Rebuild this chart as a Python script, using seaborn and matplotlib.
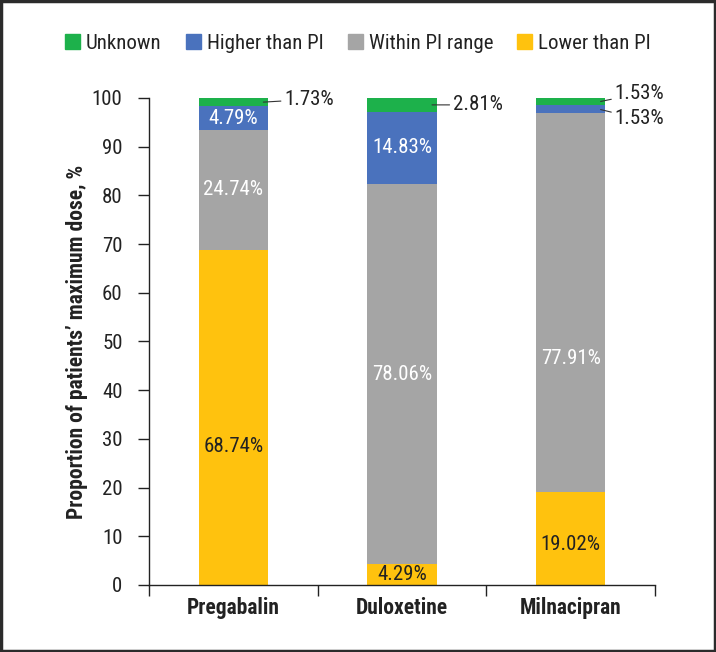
import matplotlib
matplotlib.use("Agg")
import matplotlib.pyplot as plt
from matplotlib.patches import Rectangle
import seaborn as sns
import numpy as np
import pandas as pd

# Data
drugs = ["Pregabalin", "Duloxetine", "Milnacipran"]
lower = [68.74, 4.29, 19.02]
within = [24.74, 78.06, 77.91]
higher = [4.79, 14.83, 1.53]
unknown = [1.73, 2.81, 1.53]

series_names = ["Lower than PI", "Within PI range", "Higher than PI", "Unknown"]
colors = {"Lower than PI": "#FFC20E", "Within PI range": "#A5A5A5",
          "Higher than PI": "#4A72BD", "Unknown": "#1DB14B"}

sns.set_style("white")
plt.rcParams["font.family"] = ["Roboto Condensed", "Archivo Narrow", "DejaVu Sans"]
FS = 15

fig = plt.figure(figsize=(7.16, 6.52), dpi=100)
ax = fig.add_axes([0.208, 0.1028, 0.7067, 0.7469])

values = np.array([lower, within, higher, unknown])
tops = values.cumsum(axis=0)

# Stacked bars: draw cumulative totals from top series down
for k in range(len(series_names) - 1, -1, -1):
    df = pd.DataFrame({"drug": drugs, "top": tops[k]})
    sns.barplot(data=df, x="drug", y="top", color=colors[series_names[k]],
                width=0.41, linewidth=0, saturation=1, ax=ax)

# Labels inside the bars (a few were nudged down in the original)
nudge = {(0, 0): -21, (1, 2): -40, (0, 2): -4}
for i in range(3):
    bottoms = np.concatenate([[0], tops[:, i]])
    for k, txtcol in [(0, "#222222"), (1, "white"), (2, "white")]:
        if k == 2 and values[k, i] < 3:
            continue
        yc = (bottoms[k] + bottoms[k + 1]) / 2
        ax.annotate(f"{values[k, i]:.2f}%", xy=(i, yc),
                    xytext=(0, nudge.get((k, i), 0)), textcoords="offset points",
                    ha="center", va="center", color=txtcol, fontsize=FS)

# Outside labels with leader lines
lead = dict(arrowstyle="-", color="#333333", lw=0.8, shrinkA=0, shrinkB=1)
for i, dy in [(0, 2), (1, 0)]:
    ax.annotate(f"{unknown[i]:.2f}%", xy=(i + 0.17, tops[2, i] + unknown[i] / 2),
                xytext=(16, dy), textcoords="offset points", ha="left",
                va="center", fontsize=FS, color="#222222", arrowprops=lead)
ax.annotate(f"{unknown[2]:.2f}%", xy=(2 + 0.17, tops[2, 2] + unknown[2] / 2),
            xytext=(11, 6), textcoords="offset points", ha="left",
            va="center", fontsize=FS, color="#222222", arrowprops=lead)
ax.annotate(f"{higher[2]:.2f}%", xy=(2 + 0.17, tops[1, 2] + higher[2] / 2),
            xytext=(11, -7), textcoords="offset points", ha="left",
            va="center", fontsize=FS, color="#222222", arrowprops=lead)

ax.set_xlim(-0.5, 2.5)
ax.set_ylim(0, 100)
ax.set_yticks(range(0, 101, 10))
ax.set_xticks([-0.5, 0.5, 1.5, 2.5], minor=True)
ax.tick_params(axis="x", which="major", length=0, pad=9, labelsize=15.5,
               labelcolor="#222222")
ax.tick_params(axis="x", which="minor", length=8, width=1, color="#222222",
               direction="out", bottom=True)
ax.tick_params(axis="y", length=8, width=1, color="#222222", direction="out",
               left=True, pad=11, labelsize=FS, labelcolor="#222222")
for lab in ax.get_xticklabels():
    lab.set_fontweight("bold")
ax.set_xlabel("")
ax.set_ylabel("Proportion of patients\u2019 maximum dose, %", fontsize=15.5,
              fontweight="bold", labelpad=3, color="#222222")
for s in ["top", "right"]:
    ax.spines[s].set_visible(False)
for s in ["left", "bottom"]:
    ax.spines[s].set_color("#222222")
    ax.spines[s].set_linewidth(1)

# Legend on top
handles = [Rectangle((0, 0), 1, 1, color=colors[n]) for n in series_names[::-1]]
leg = fig.legend(handles, series_names[::-1], loc="center",
                 bbox_to_anchor=(0.5, 0.934), ncol=4, frameon=False, fontsize=FS,
                 handlelength=0.72, handleheight=0.72, handletextpad=0.3,
                 columnspacing=1.15)
for t in leg.get_texts():
    t.set_color("#222222")

# Figure frame
fig.patches.append(Rectangle((0.002, 0.002), 0.996, 0.996, transform=fig.transFigure,
                             fill=False, edgecolor="#2b2b2b", linewidth=2.5))

fig.savefig("out.png", dpi=100)
